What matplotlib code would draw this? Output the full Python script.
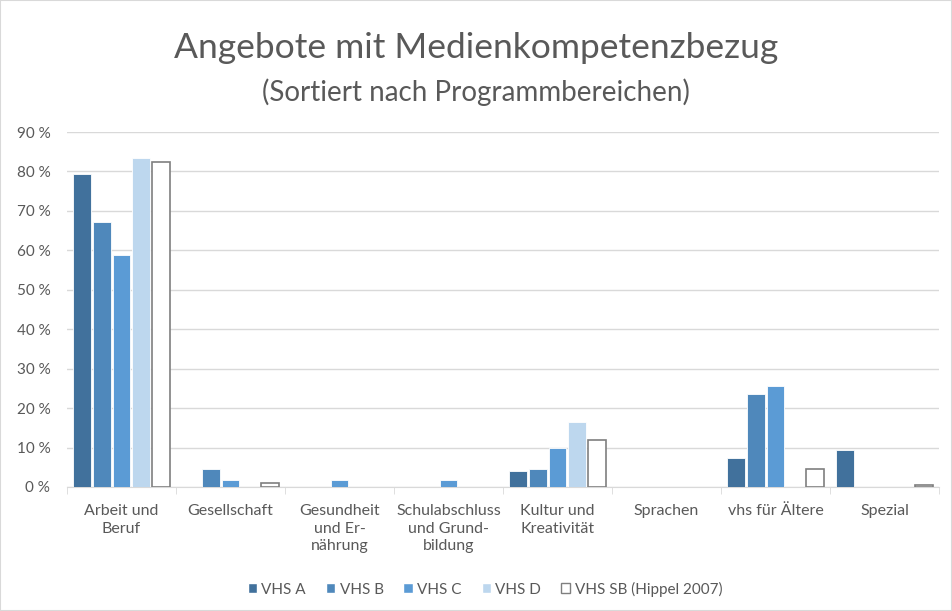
import numpy as np
import matplotlib.pyplot as plt
from matplotlib.patches import Rectangle

plt.rcParams['font.family'] = ['Lato', 'DejaVu Sans']

categories = ['Arbeit und\nBeruf', 'Gesellschaft', 'Gesundheit\nund Er-\nnährung',
              'Schulabschluss\nund Grund-\nbildung', 'Kultur und\nKreativität', 'Sprachen',
              'vhs für Ältere', 'Spezial']
series = ['VHS A', 'VHS B', 'VHS C', 'VHS D', 'VHS SB (Hippel 2007)']
vhs_a = [79.3, 0, 0, 0, 4.1, 0, 7.3, 9.3]
vhs_b = [67.3, 4.6, 0, 0, 4.6, 0, 23.5, 0]
vhs_c = [58.8, 1.9, 1.9, 1.9, 9.8, 0, 25.5, 0]
vhs_d = [83.3, 0, 0, 0, 16.6, 0, 0, 0]
vhs_sb = [82.5, 1.1, 0, 0, 11.9, 0, 4.5, 0.4]
values = [vhs_a, vhs_b, vhs_c, vhs_d, vhs_sb]
colors = ['#41719C', '#4F88BB', '#5B9BD5', '#BDD7EE', 'white']
edges = ['white', 'white', 'white', 'white', '#7F7F7F']

fig = plt.figure(figsize=(9.52, 6.11), dpi=100)
ax = fig.add_axes([67 / 952, 1 - 487 / 611, 872 / 952, 355 / 611])

x = np.arange(len(categories))
step = 0.18
width = 0.165
for i, (vals, c, e) in enumerate(zip(values, colors, edges)):
    h = np.array(vals, dtype=float)
    keep = h > 0  # Excel draws nothing for empty cells
    pos = x + (i - 2) * step
    ax.bar(pos[keep], h[keep], width=width, color=c, edgecolor=e,
           linewidth=1.2 if i == 4 else 0.6, zorder=3)
    ax.bar([np.nan], [np.nan], color=c, edgecolor=e, linewidth=1.0, label=series[i])

ax.set_xlim(-0.5, len(categories) - 0.5)
ax.set_ylim(0, 90)
ax.set_yticks(np.arange(0, 91, 10))
ax.set_yticklabels([f'{v} %' for v in range(0, 91, 10)])
ax.grid(axis='y', color='#D9D9D9', linewidth=1, zorder=0)
for s in ['top', 'right', 'left']:
    ax.spines[s].set_visible(False)
ax.spines['bottom'].set_color('#D9D9D9')
ax.tick_params(axis='y', length=0, labelsize=11, labelcolor='#595959', pad=12)

ax.set_xticks(x)
ax.set_xticklabels(categories, fontsize=11.5, color='#595959', va='top', linespacing=1.35)
ax.tick_params(axis='x', length=0, pad=12)
ax.set_xticks(np.arange(-0.5, len(categories)), minor=True)
ax.tick_params(axis='x', which='minor', length=5, color='#D9D9D9')

fig.text(0.5, 1 - 48 / 611, 'Angebote mit Medienkompetenzbezug', ha='center', va='center',
         fontsize=25.5, color='#595959')
fig.text(0.5, 1 - 92 / 611, '(Sortiert nach Programmbereichen)', ha='center', va='center',
         fontsize=20, color='#595959')

leg = fig.legend(loc='center', bbox_to_anchor=(485 / 952, 1 - 589 / 611), ncol=5,
                 frameon=False, fontsize=11, handlelength=0.6, handleheight=0.6,
                 handletextpad=0.3, columnspacing=1.3)
for t in leg.get_texts():
    t.set_color('#595959')

fig.patches.append(Rectangle((0, 0), 1, 1, transform=fig.transFigure, fill=False,
                             edgecolor='#D9D9D9', linewidth=1.5))

fig.savefig('out.png', dpi=100)
